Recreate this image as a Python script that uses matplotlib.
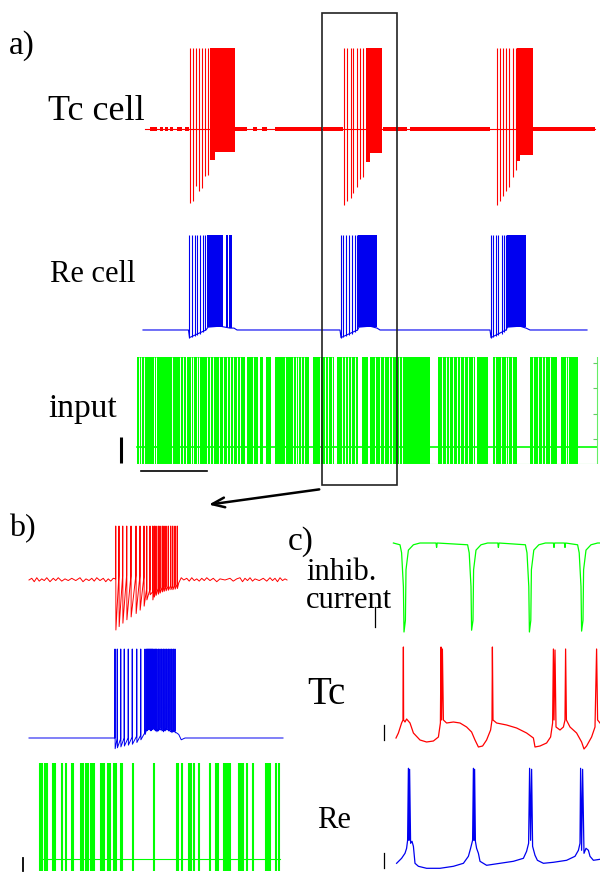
import matplotlib
matplotlib.use('Agg')
import matplotlib.pyplot as plt
from matplotlib.patches import Rectangle

# ---------------- DATA ----------------
RED, BLUE, GREEN = '#ff0000', '#0000f0', '#00ff00'

# Panel a : time in ms, voltages in mV (arbitrary display units)
a_tc_range = [450, 4950]
a_tc_base = -65
a_tc_top = 30
a_tc_spk_t = [900, 933, 960, 993, 1017, 1050, 1077,
              2440, 2467, 2507, 2533, 2567, 2600, 2627,
              3967, 4000, 4033, 4060, 4093, 4127, 4160]
a_tc_spk_min = [-152, -149, -132, -138, -134, -120, -119,
                -154, -150, -146, -140, -133, -124, -121,
                -154, -150, -144, -138, -133, -121, -113]
a_tc_dense_t0 = [1100, 1150, 2657, 2700, 4167, 4200]
a_tc_dense_t1 = [1150, 1350, 2700, 2817, 4200, 4327]
a_tc_dense_min = [-101, -92, -104, -93, -102, -95]
a_tc_noise_t0 = [500, 600, 650, 700, 770, 850, 1350, 1530, 1620, 1750, 2230, 2830, 3100, 4330]
a_tc_noise_t1 = [570, 630, 680, 730, 820, 890, 1470, 1570, 1670, 2220, 2430, 3070, 3900, 4950]

a_re_top = 30
a_re_env_t = [430, 885, 895, 1060, 1080, 1200, 1300, 1340, 1370,
              2400, 2410, 2575, 2590, 2700, 2770, 2800,
              3900, 3910, 4060, 4075, 4200, 4260, 4300, 4870]
a_re_env_v = [-70, -70, -78, -70, -67, -66, -68, -68, -70,
              -70, -78, -70, -67, -66, -68, -70,
              -70, -78, -70, -67, -66, -68, -70, -70]
a_re_spk_t = [893, 917, 950, 973, 1000, 1027, 1050,
              2407, 2433, 2460, 2493, 2520, 2550, 2573,
              3907, 3933, 3960, 3983, 4017, 4040, 4060]
a_re_spk_min = [-78, -77, -76, -75, -74, -72, -70,
                -78, -77, -76, -75, -74, -72, -70,
                -78, -77, -76, -75, -74, -72, -70]
a_re_dense_t0 = [1067, 1255, 1290, 2583, 4073]
a_re_dense_t1 = [1225, 1278, 1317, 2767, 4260]
a_re_dense_min = [-67, -67, -68, -67, -67]

a_in_range = [370, 4780]
a_in_gap_t0 = [386, 406, 436, 536, 556, 716, 796, 826, 856, 906, 926, 966, 986, 1066, 1096, 1126,
               1186, 1226, 1266, 1296, 1326, 1366, 1396, 1450, 1526, 1580, 1630, 1710, 1846, 1926,
               1956, 1976, 2006, 2036, 2090, 2196, 2246, 2276, 2316, 2340, 2416, 2446, 2476, 2506,
               2546, 2580, 2680, 2746, 2796, 2836, 2886, 2916, 2986, 3016, 3300, 3416, 3456, 3486,
               3526, 3566, 3596, 3636, 3676, 3726, 3750, 3880, 3946, 4006, 4056, 4076, 4116, 4170,
               4326, 4376, 4416, 4446, 4496, 4570, 4656, 4676]
a_in_gap_t1 = [394, 414, 444, 544, 564, 724, 804, 834, 874, 914, 934, 974, 994, 1074, 1104, 1134,
               1194, 1234, 1274, 1304, 1334, 1374, 1404, 1470, 1534, 1600, 1660, 1750, 1854, 1934,
               1964, 1984, 2014, 2044, 2130, 2204, 2254, 2284, 2324, 2370, 2424, 2454, 2484, 2514,
               2554, 2620, 2700, 2754, 2804, 2844, 2894, 2924, 2994, 3024, 3380, 3424, 3464, 3494,
               3534, 3574, 3604, 3644, 3684, 3734, 3770, 3930, 3954, 4014, 4064, 4084, 4124, 4300,
               4334, 4384, 4424, 4454, 4504, 4610, 4664, 4684]
a_in_level = 0.159
a_in_frame_t = 4970
a_in_frame_ticks = [0.944, 0.710, 0.467, 0.234]

# Panel b
b_tc_range = [16, 1048]
b_tc_base = -65
b_tc_top = 30
b_tc_spk_t = [363, 376, 391, 407, 424, 444, 460, 476, 487, 500, 511, 517, 524, 533, 540, 549,
              556, 564, 573, 583, 591, 600, 609]
b_tc_spk_min = [-153, -147, -141, -135, -130, -124, -118, -111, -100, -91, -100, -95, -92, -90,
                -88, -86, -85, -84, -83, -82, -82, -81, -80]
b_tc_spk_pre = [-63, -57, -58, -57, -58, -57, -58, -60, -80, -82, -86, -84, -82, -80,
                -79, -78, -77, -76, -76, -75, -75, -74, -73]
b_tc_post_t = [615, 625, 635]
b_tc_post_v = [-70, -61, -65]
b_tc_pre_noise_t = [27, 37, 47, 57, 67, 77, 87, 100, 113, 123, 133, 147, 160, 173, 187, 203, 220,
                    232, 244, 256, 267, 277, 287, 300, 313, 323, 333, 343, 353]
b_tc_pre_noise_v = [-62, -68, -61, -67, -63, -66, -61, -68, -62, -66, -61, -67, -63, -66, -62,
                    -66, -61, -68, -63, -66, -62, -67, -61, -66, -62, -68, -63, -67, -62]
b_tc_post_noise_t = [647, 657, 667, 677, 687, 697, 707, 717, 727, 740, 753, 767, 780, 800, 820,
                     833, 847, 860, 870, 880, 890, 900, 910, 920, 937, 953, 967, 980, 990, 1000,
                     1010, 1020, 1030, 1040]
b_tc_post_noise_v = [-62, -67, -61, -66, -63, -67, -62, -66, -61, -66, -62, -68, -63, -65, -62,
                     -67, -63, -61, -68, -62, -66, -61, -67, -63, -66, -62, -67, -61, -66, -62,
                     -68, -61, -66, -63]

b_re_range = [16, 1032]
b_re_base = -70
b_re_top = 30
b_re_spk_t = [360, 369, 383, 397, 413, 429, 447, 463, 480, 487, 491, 495, 499, 503, 507, 511,
              516, 521, 527, 533, 540, 547, 553, 560, 567, 573, 580, 587, 593, 600]
b_re_spk_min = [-82, -81, -80, -79, -78, -77, -75, -72, -66, -62, -61, -60, -61, -62, -61, -60,
                -61, -62, -63, -62, -61, -62, -63, -62, -61, -62, -63, -64, -63, -64]
b_re_spk_pre = [-70, -71, -71, -70, -70, -69, -68, -67, -64, -60, -59, -58, -59, -60, -59, -58,
                -59, -60, -61, -60, -59, -60, -61, -60, -59, -60, -61, -62, -61, -62]
b_re_post_t = [605, 615, 625, 640]
b_re_post_v = [-64, -66, -72, -70]

b_in_spk_t = [60, 66, 80, 86, 111, 120, 147, 165, 187, 193, 223, 231, 244, 253, 264, 273, 277,
              303, 309, 316, 331, 340, 356, 363, 383, 387, 433, 517, 607, 613, 627, 657, 664,
              674, 697, 740, 764, 772, 796, 800, 804, 808, 812, 816, 820, 854, 862, 871, 887,
              911, 964, 970, 980, 1005, 1016]
b_in_range = [60, 1020]
b_in_level = 0.111

# Panel c
c_inh_t = [117, 150, 158, 167, 170, 177, 180, 192, 217, 250, 330, 333, 336,
           488, 496, 505, 508, 515, 518, 530, 555, 588, 639, 642, 645,
           777, 785, 794, 797, 804, 807, 819, 844, 877, 917, 920, 923, 972, 975, 978,
           1038, 1046, 1055, 1058, 1065, 1068, 1080, 1105, 1138, 1150]
c_inh_v = [0, -0.02, -0.11, -0.49, -1.0, -0.87, -0.30, -0.08, -0.02, 0, 0, -0.05, 0,
           -0.02, -0.11, -0.49, -0.98, -0.87, -0.30, -0.08, -0.02, 0, 0, -0.05, 0,
           -0.02, -0.11, -0.49, -1.0, -0.87, -0.30, -0.08, -0.02, 0, 0, -0.05, 0, 0, -0.05, 0,
           -0.02, -0.11, -0.49, -0.99, -0.87, -0.30, -0.08, -0.02, 0, 0]

c_tc_t = [130, 142, 158, 165, 167, 168, 175, 183, 200, 217, 250, 283, 317, 342, 352, 355, 358,
          362, 367, 383, 417, 450, 483, 508, 525, 542, 563, 583, 603, 610, 612, 615, 633, 683,
          733, 783, 817, 825, 850, 883, 903, 913, 917, 920, 925, 930, 950, 967, 975, 978, 982,
          1000, 1033, 1058, 1070, 1083, 1108, 1125, 1133, 1138, 1150]
c_tc_v = [-61, -56, -46, -43, 30, -43, -45, -42, -46, -56, -63, -65, -64, -60, -46, 30, -43,
          28, -43, -46, -45, -46, -50, -55, -63, -70, -69, -63, -53, -43, 30, -43, -46, -48,
          -51, -56, -61, -70, -69, -66, -60, -46, 28, -43, 27, -50, -53, -50, -43, 28, -43,
          -50, -56, -65, -72, -69, -60, -50, 28, -43, -46]

c_re_t = [133, 158, 175, 183, 188, 192, 195, 198, 203, 210, 217, 225, 242, 283, 350, 417, 467,
          492, 503, 513, 517, 520, 523, 527, 533, 542, 550, 583, 650, 717, 767, 783, 793, 798,
          803, 808, 813, 825, 837, 867, 917, 983, 1025, 1042, 1050, 1053, 1058, 1063, 1070,
          1080, 1092, 1100, 1117, 1150]
c_re_v = [-65, -60, -55, -50, -42, 30, -42, 29, -45, -43, -48, -65, -68, -70, -70, -68, -65,
          -58, -50, -42, 30, -42, 29, -43, -50, -55, -63, -67, -65, -63, -60, -53, -45, 30,
          -42, 29, -48, -57, -62, -65, -64, -62, -58, -52, -45, 30, -52, 29, -55, -50, -52,
          -58, -62, -61]

# ---------------- LAYOUT ----------------
W, H = 600, 874
fig = plt.figure(figsize=(W / 100, H / 100), dpi=100)
fig.patch.set_facecolor('white')
SERIF = ['Liberation Serif', 'DejaVu Serif']


def add_ax(x0, y0, x1, y1, xlim, ylim):
    ax = fig.add_axes([x0 / W, 1 - y1 / H, (x1 - x0) / W, (y1 - y0) / H])
    ax.set_xlim(*xlim)
    ax.set_ylim(*ylim)
    ax.axis('off')
    return ax


def burst_path(lead_t, lead_v, spk_t, spk_min, spk_pre, top, tail_t, tail_v):
    xs, ys = list(lead_t), list(lead_v)
    for t, mn, pre in zip(spk_t, spk_min, spk_pre):
        xs += [t - 0.6, t, t + 0.6]
        ys += [pre, top, mn]
    xs += list(tail_t)
    ys += list(tail_v)
    return xs, ys


LW = 0.8

# ---- panel a ----
XL_A = (0, 5000)  # px 100..600
ax_tc = add_ax(100, 40, 600, 210, XL_A, (-160.0, 39.4))
ax_tc.plot(a_tc_range, [a_tc_base, a_tc_base], color=RED, lw=LW)
for t0, t1 in zip(a_tc_noise_t0, a_tc_noise_t1):
    ax_tc.fill_between([t0, t1], a_tc_base - 2.2, a_tc_base + 2.2, color=RED, lw=0)
ax_tc.vlines(a_tc_spk_t, a_tc_spk_min, a_tc_top, color=RED, lw=LW)
for t0, t1, mn in zip(a_tc_dense_t0, a_tc_dense_t1, a_tc_dense_min):
    ax_tc.fill_between([t0, t1], mn, a_tc_top, color=RED, lw=0)

ax_re = add_ax(100, 225, 600, 345, XL_A, (-85.8, 40.5))
ax_re.plot(a_re_env_t, a_re_env_v, color=BLUE, lw=LW)
ax_re.vlines(a_re_spk_t, a_re_spk_min, a_re_top, color=BLUE, lw=LW)
for t0, t1, mn in zip(a_re_dense_t0, a_re_dense_t1, a_re_dense_min):
    ax_re.fill_between([t0, t1], mn, a_re_top, color=BLUE, lw=0)

ax_in = add_ax(100, 357, 600, 464, XL_A, (0, 1))
ax_in.broken_barh([(a_in_range[0], a_in_range[1] - a_in_range[0])], (0, 1),
                  facecolors=GREEN, lw=0)
thin_gaps = [(g0 + g1) / 2 for g0, g1 in zip(a_in_gap_t0, a_in_gap_t1) if g1 - g0 <= 10]
wide_gaps = [(g0, g1 - g0) for g0, g1 in zip(a_in_gap_t0, a_in_gap_t1) if g1 - g0 > 10]
ax_in.vlines(thin_gaps, 0, 1, color='white', lw=0.7)
ax_in.broken_barh(wide_gaps, (0, 1), facecolors='white', lw=0)
ax_in.plot([a_in_range[0], a_in_frame_t], [a_in_level, a_in_level], color=GREEN, lw=1.2)
ax_in.plot([a_in_range[0], a_in_frame_t], [0, 0], color='#66ee66', lw=0.8)
ax_in.plot([a_in_frame_t, a_in_frame_t], [0, 1], color='#66ee66', lw=0.8)
ax_in.hlines(a_in_frame_ticks, a_in_frame_t - 40, a_in_frame_t, color='#66cc66', lw=0.8)
# scale bars
ax_in.plot([210, 210], [0.01, 0.25], color='black', lw=2.2, clip_on=False, solid_capstyle='butt')
ax_in.plot([410, 1070], [-0.065, -0.065], color='black', lw=1.2, clip_on=False)

# ---- panel b ----
XL_B = (0, 1068)  # px 25..292
ax_btc = add_ax(25, 515, 292, 640, XL_B, (-170.6, 49.4))
xs, ys = burst_path([b_tc_range[0]] + b_tc_pre_noise_t, [b_tc_base] + b_tc_pre_noise_v,
                    b_tc_spk_t, b_tc_spk_min, b_tc_spk_pre, b_tc_top,
                    b_tc_post_t + b_tc_post_noise_t + [b_tc_range[1]],
                    b_tc_post_v + b_tc_post_noise_v + [b_tc_base])
ax_btc.plot(xs, ys, color=RED, lw=0.7)

ax_bre = add_ax(25, 640, 292, 755, XL_B, (-89.1, 40.1))
xs, ys = burst_path([b_re_range[0], b_re_spk_t[0] - 2], [b_re_base, b_re_base],
                    b_re_spk_t, b_re_spk_min, b_re_spk_pre, b_re_top,
                    b_re_post_t + [b_re_range[1]], b_re_post_v + [b_re_base])
ax_bre.plot(xs, ys, color=BLUE, lw=0.7)

ax_bin = add_ax(25, 755, 292, 875, XL_B, (-0.037, 1.074))
ax_bin.vlines(b_in_spk_t, 0, 1, color=GREEN, lw=1.5)
ax_bin.plot(b_in_range, [b_in_level, b_in_level], color=GREEN, lw=0.8)
ax_bin.plot([-8, -8], [0, 0.12], color='black', lw=1.3, clip_on=False)

# ---- panel c ----
XL_C = (0, 1150)  # px 370..600
ax_cin = add_ax(370, 535, 600, 640, XL_C, (-1.09, 0.09))
ax_cin.plot(c_inh_t, c_inh_v, color=GREEN, lw=0.9)
ax_cin.plot([25, 25], [-0.72, -0.94], color='black', lw=0.9)

ax_ctc = add_ax(370, 640, 600, 770, XL_C, (-93, 37))
ax_ctc.plot(c_tc_t, c_tc_v, color=RED, lw=0.9)
ax_ctc.plot([70, 70], [-48, -63], color='black', lw=0.9)

ax_cre = add_ax(370, 760, 600, 875, XL_C, (-76.7, 38.3))
ax_cre.plot(c_re_t, c_re_v, color=BLUE, lw=0.9)
ax_cre.plot([70, 70], [-55, -70], color='black', lw=0.9)

# ---- overlay: zoom box and arrow ----
ov = fig.add_axes([0, 0, 1, 1], zorder=10)
ov.set_xlim(0, W)
ov.set_ylim(H, 0)
ov.axis('off')
ov.patch.set_alpha(0)
ov.add_patch(Rectangle((322, 13), 75, 472, fill=False, ec='#222222', lw=1.2))
ov.annotate('', xy=(206, 505), xytext=(322, 489),
            arrowprops=dict(arrowstyle='->,head_length=0.9,head_width=0.35', lw=1.8, color='black'))

# ---- labels ----
def label(x, y, s, size):
    fig.text(x / W, 1 - y / H, s, fontsize=size, family=SERIF, ha='left', va='center')

label(9, 46, 'a)', 24)
label(48, 112, 'Tc cell', 26)
label(50, 275, 'Re cell', 22)
label(48, 409, 'input', 24)
label(9, 529, 'b)', 23)
label(288, 542, 'c)', 24)
label(306, 572, 'inhib.', 22)
label(306, 600, 'current', 22)
label(307, 695, 'Tc', 28)
label(317, 821, 'Re', 22)

fig.savefig('out.png', dpi=100, facecolor='white')
